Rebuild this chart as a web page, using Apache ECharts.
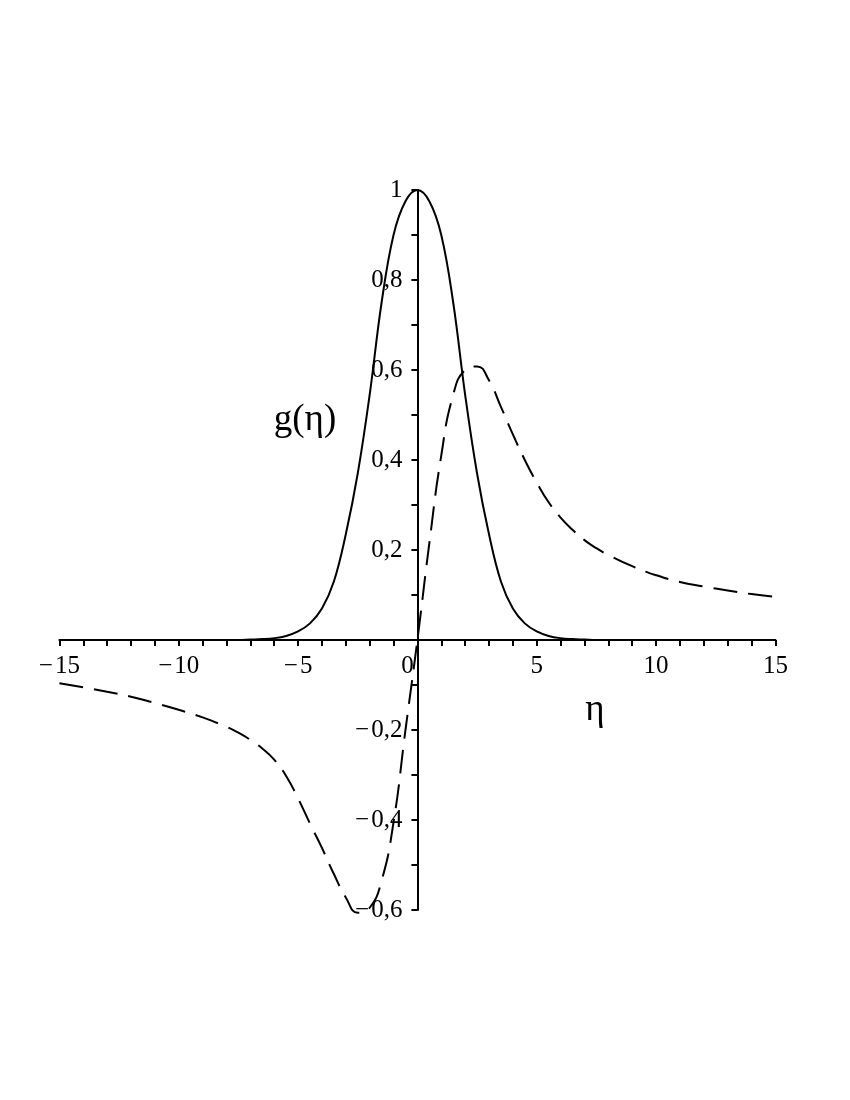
<!DOCTYPE html>
<html>
    <head>
        <meta charset="UTF-8">
        <title>g(η)</title>
        <script type="text/javascript" src="https://cdn.jsdelivr.net/npm/echarts@6.0.0/dist/echarts.min.js"></script>
    </head>
    <body style="margin: 0; background: #ffffff;">
        <div id="container" style="width: 850px; height: 1100px;"></div>
    </body>
    <script type="text/javascript">
        // values
        var eta = [-15, -14, -13, -12, -11, -10, -9, -8, -7.5, -7, -6.5, -6, -5.5, -5, -4.5, -4, -3.5, -3, -2.5, -2, -1.5, -1, -0.5,
                   0, 0.5, 1, 1.5, 2, 2.5, 3, 3.5, 4, 4.5, 5, 5.5, 6, 6.5, 7, 7.5, 8, 9, 10, 11, 12, 13, 14, 15];
        var solidG = [0, 0, 0, 0, 0, 0, 0, 0, 0, 0.001, 0.002, 0.004, 0.009, 0.019, 0.037, 0.07, 0.13, 0.235, 0.37, 0.545, 0.75, 0.9, 0.975,
                      1.0, 0.975, 0.9, 0.75, 0.545, 0.37, 0.235, 0.13, 0.07, 0.037, 0.019, 0.009, 0.004, 0.002, 0.001, 0, 0, 0, 0, 0, 0, 0, 0, 0];
        var dashedG = [-0.096, -0.105, -0.115, -0.126, -0.14, -0.155, -0.172, -0.193, -0.206, -0.222, -0.241, -0.266, -0.302, -0.352, -0.408, -0.462, -0.52, -0.572, -0.606, -0.595, -0.535, -0.405, -0.2,
                       0, 0.215, 0.41, 0.545, 0.6, 0.608, 0.577, 0.518, 0.457, 0.4, 0.35, 0.306, 0.272, 0.245, 0.222, 0.204, 0.189, 0.164, 0.144, 0.129, 0.119, 0.11, 0.102, 0.096];
        var xTicks = [-15, -10, -5, 0, 5, 10, 15];
        var yTicks = [-0.6, -0.4, -0.2, 0.2, 0.4, 0.6, 0.8, 1];

        var dom = document.getElementById("container");
        var myChart = echarts.init(dom, null, {renderer: 'canvas'});
        var serif = 'Liberation Serif';
        var MINUS = '\u2212\u200a';

        // grid box, and where the axes cross (η = 0, g = 0)
        var gLeft = 59.4, gRight = 775.4, gTop = 190, gBottom = 910;
        var zeroX = 417.4, zeroY = 640;

        function pairs(ys) {
            return eta.map(function (x, i) { return [x, ys[i]]; });
        }

        function fmtX(v) {
            var k = Math.round(v);
            if (xTicks.indexOf(k) < 0) return '';
            if (k === 0) return '{z|0}';
            return k < 0 ? MINUS + (-k) : '' + k;
        }

        function fmtY(v) {
            var k = Math.round(v * 10);
            var hit = yTicks.some(function (t) { return Math.round(t * 10) === k; });
            if (!hit) return '';
            var s = (Math.abs(k) / 10).toString().replace('.', ',');
            return k < 0 ? MINUS + s : s;
        }

        var axisLineStyle = {color: '#000', width: 2};

        var option = {
            animation: false,
            backgroundColor: '#fff',
            grid: {
                left: gLeft,
                right: 850 - gRight,
                top: gTop,
                bottom: 1100 - gBottom,
                containLabel: false,
                outerBoundsMode: 'none'
            },
            xAxis: {
                type: 'value',
                min: -15,
                max: 15,
                interval: 1,
                offset: -(gBottom - zeroY),
                splitLine: {show: false},
                axisLine: {onZero: false, lineStyle: axisLineStyle},
                axisTick: {length: 6, lineStyle: axisLineStyle},
                axisLabel: {
                    formatter: fmtX,
                    margin: 14,
                    color: '#000',
                    fontFamily: serif,
                    fontSize: 25,
                    rich: {
                        z: {fontFamily: serif, fontSize: 25, color: '#000', padding: [0, 20, 0, 0]}
                    }
                }
            },
            yAxis: {
                type: 'value',
                min: -0.6,
                max: 1,
                interval: 0.1,
                offset: -(zeroX - gLeft),
                splitLine: {show: false},
                axisLine: {onZero: false, lineStyle: axisLineStyle},
                axisTick: {length: 6, lineStyle: axisLineStyle},
                axisLabel: {
                    formatter: fmtY,
                    margin: 15,
                    color: '#000',
                    fontFamily: serif,
                    fontSize: 25
                }
            },
            graphic: [
                {
                    type: 'text',
                    x: 305,
                    y: 420,
                    style: {text: 'g(η)', font: '37px "Liberation Serif"', fill: '#000', align: 'center', verticalAlign: 'middle'}
                },
                {
                    type: 'text',
                    x: 595,
                    y: 710,
                    style: {text: 'η', font: '37px "Liberation Serif"', fill: '#000', align: 'center', verticalAlign: 'middle'}
                }
            ],
            series: [
                {
                    type: 'line',
                    data: pairs(solidG),
                    smooth: 0.4,
                    showSymbol: false,
                    clip: false,
                    lineStyle: {color: '#000', width: 2}
                },
                {
                    type: 'line',
                    data: pairs(dashedG),
                    smooth: 0.5,
                    showSymbol: false,
                    clip: false,
                    lineStyle: {color: '#000', width: 2, type: [24, 11]}
                }
            ]
        };

        myChart.setOption(option);
    </script>
</html>
